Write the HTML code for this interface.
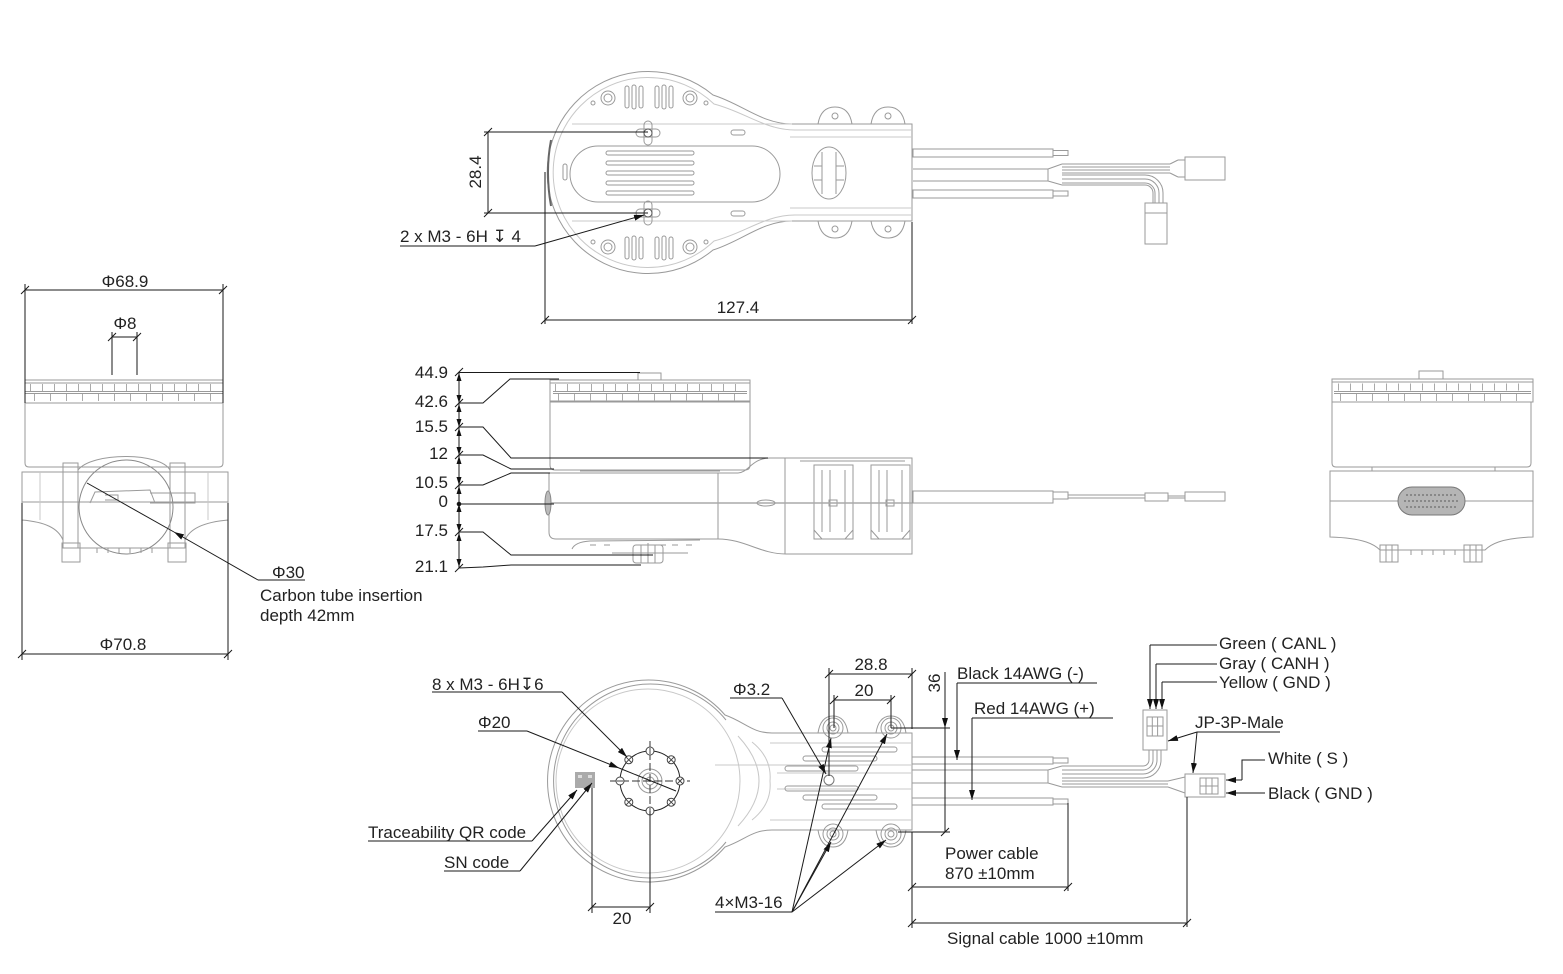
<!DOCTYPE html>
<html><head><meta charset="utf-8">
<style>
html,body{margin:0;padding:0;background:#fff}
svg{display:block}
text{font-family:"Liberation Sans","DejaVu Sans",sans-serif;font-size:17px;fill:#222}
.g{stroke:#9a9a9a;fill:none;stroke-width:1}
.l{stroke:#c8c8c8;fill:none;stroke-width:1}
.k{stroke:#1a1a1a;fill:none;stroke-width:1}
.d{stroke:#333;fill:none;stroke-width:1}
</style></head><body>
<svg width="1563" height="974" viewBox="0 0 1563 974" xmlns="http://www.w3.org/2000/svg">
<defs>
<marker id="a" viewBox="0 0 10 6" refX="10" refY="3" markerWidth="10" markerHeight="6" markerUnits="userSpaceOnUse" orient="auto"><path d="M0,0L10,3L0,6z" fill="#111"/></marker>
</defs>

<!-- ================= TOP VIEW ================= -->
<g>
<path class="g" d="M912,124 L792,124 C762,124 742,104 713,95 A101,101 0 1 0 713,250 C742,241 762,221 792,221 L912,221 Z"/>
<path class="l" d="M912,130 L795,130 C765,130 745,112 714,104 A95,95 0 1 0 714,241 C745,233 765,215 795,215 L912,215"/>
<path class="l" d="M572,124 L792,124 M572,221 L792,221 M790,137 L912,137 M790,208 L912,208"/>
<path class="g" d="M818,124 C820,112 826,107 835,107 C844,107 850,112 852,124 M871,124 C873,112 879,107 888,107 C897,107 903,112 905,124"/>
<path class="g" d="M818,221 C820,233 826,238 835,238 C844,238 850,233 852,221 M871,221 C873,233 879,238 888,238 C897,238 903,233 905,221"/>
<circle class="g" cx="835" cy="116" r="3"/><circle class="g" cx="888" cy="116" r="3"/>
<circle class="g" cx="835" cy="229" r="3"/><circle class="g" cx="888" cy="229" r="3"/>
<rect class="g" x="570" y="146" width="210" height="56" rx="28"/>
<rect class="g" x="606" y="151" width="88" height="4" rx="2"/>
<rect class="g" x="606" y="161" width="88" height="4" rx="2"/>
<rect class="g" x="606" y="171" width="88" height="4" rx="2"/>
<rect class="g" x="606" y="181" width="88" height="4" rx="2"/>
<rect class="g" x="606" y="191" width="88" height="4" rx="2"/>
<ellipse class="g" cx="829" cy="173" rx="17" ry="26"/>
<path class="g" d="M822,152 L822,194 M836,152 L836,194 M814,166 L822,166 M836,166 L844,166 M814,180 L822,180 M836,180 L844,180"/>
<rect class="g" x="636" y="129" width="24" height="8" rx="4"/>
<rect class="g" x="644" y="121" width="8" height="24" rx="4"/>
<circle cx="648" cy="133" r="4" fill="#fff" stroke="#555"/>
<rect class="g" x="636" y="209" width="24" height="8" rx="4"/>
<rect class="g" x="644" y="201" width="8" height="24" rx="4"/>
<circle cx="648" cy="213" r="4" fill="#fff" stroke="#555"/>
<circle class="g" cx="608" cy="98" r="7"/><circle class="g" cx="608" cy="98" r="4"/>
<circle class="g" cx="690" cy="98" r="7"/><circle class="g" cx="690" cy="98" r="4"/>
<rect class="g" x="625" y="86" width="4" height="22" rx="2"/><rect class="g" x="632" y="85" width="4" height="24" rx="2"/><rect class="g" x="639" y="86" width="4" height="22" rx="2"/>
<rect class="g" x="655" y="86" width="4" height="22" rx="2"/><rect class="g" x="662" y="85" width="4" height="24" rx="2"/><rect class="g" x="669" y="86" width="4" height="22" rx="2"/>
<circle class="g" cx="608" cy="247" r="7"/><circle class="g" cx="608" cy="247" r="4"/>
<circle class="g" cx="690" cy="247" r="7"/><circle class="g" cx="690" cy="247" r="4"/>
<rect class="g" x="625" y="237" width="4" height="22" rx="2"/><rect class="g" x="632" y="236" width="4" height="24" rx="2"/><rect class="g" x="639" y="237" width="4" height="22" rx="2"/>
<rect class="g" x="655" y="237" width="4" height="22" rx="2"/><rect class="g" x="662" y="236" width="4" height="24" rx="2"/><rect class="g" x="669" y="237" width="4" height="22" rx="2"/>
<circle class="g" cx="593" cy="103" r="2"/><circle class="g" cx="706" cy="103" r="2"/>
<circle class="g" cx="593" cy="242" r="2"/><circle class="g" cx="706" cy="242" r="2"/>
<rect class="g" x="731" y="130" width="14" height="5" rx="2.5"/>
<rect class="g" x="731" y="211" width="14" height="5" rx="2.5"/>
<rect class="g" x="563" y="164" width="4" height="16" rx="2"/>
<path d="M551,140 Q545,172 551,206" stroke="#666" stroke-width="2" fill="none"/>
<rect class="g" x="913" y="149" width="140" height="8"/>
<rect class="g" x="1053" y="150.5" width="15" height="5"/>
<rect class="g" x="913" y="190" width="140" height="8"/>
<rect class="g" x="1053" y="191" width="15" height="5"/>
<path class="g" d="M913,169 L1048,169 M913,181 L1048,181 M1048,169 L1048,181 M1048,169 L1062,164 M1048,181 L1062,185"/>
<path class="g" d="M1062,164 L1170,164 M1062,167 L1170,167 M1062,170 L1170,170 M1062,173 L1170,173 M1170,164 L1178,160 M1170,173 L1178,177 M1178,160 L1185,160 M1178,177 L1185,177"/>
<rect class="g" x="1185" y="157" width="40" height="23"/>
<path class="g" d="M1062,175 L1145,175 A18,18 0 0 1 1163,193 M1062,179 L1145,179 A14,14 0 0 1 1159,193 M1062,183 L1145,183 A10,10 0 0 1 1155,193 M1062,185 L1145,185 A8,8 0 0 1 1153,193 M1163,193 L1163,203 M1159,193 L1159,203 M1155,193 L1155,203 M1153,193 L1153,203"/>
<rect class="g" x="1145" y="203" width="22" height="41"/>
<line class="g" x1="1145" y1="213" x2="1167" y2="213"/>
</g>
<g class="k">
<path d="M488,132 L488,213 M484,132 L648,132 M484,213 L648,213 M484,136 L492,128 M484,217 L492,209"/>
<path d="M545,172 L545,324 M912,222 L912,324 M545,320 L912,320 M541,324 L549,316 M908,324 L916,316"/>
<path d="M400,246 L535,246"/>
<path d="M535,246 L644,215" marker-end="url(#a)"/>
</g>
<text x="481" y="172" text-anchor="middle" transform="rotate(-90 481 172)">28.4</text>
<text x="738" y="313" text-anchor="middle">127.4</text>
<text x="400" y="242">2 x M3 - 6H ↧ 4</text>

<!-- ================= LEFT VIEW ================= -->
<g>
<rect class="g" x="25" y="380" width="198" height="23"/>
<path class="g" d="M25,383 L223,383 M25,391.5 L223,391.5 M25,393.5 L223,393.5"/>
<line x1="30" y1="387.5" x2="220" y2="387.5" stroke="#aaa" stroke-width="7" stroke-dasharray="1 11"/>
<line x1="34" y1="397.5" x2="220" y2="397.5" stroke="#aaa" stroke-width="7" stroke-dasharray="1 15"/>
<path class="g" d="M25,403 L223,403 L223,463 Q223,467 219,467 L29,467 Q25,467 25,463 Z"/>
<path class="g" d="M22,472 L228,472 L228,502 L22,502 Z"/>
<path class="g" d="M22,502 L22,520 C45,522 58,528 63,540 L63,548 L185,548 L185,540 C190,528 205,522 228,520 L228,502"/>
<path class="l" d="M40,472 L40,520 M208,472 L208,520"/>
<rect class="g" x="63" y="463" width="15" height="85"/>
<rect class="g" x="170" y="463" width="15" height="85"/>
<path class="g" d="M78,470 C92,452 160,452 170,470"/>
<circle cx="126" cy="507" r="47" fill="none" stroke="#888"/>
<path class="g" d="M90,503 L95,492 L150,490 L155,503 M150,493 L195,493 L195,503 L150,503 M105,495 L118,495 L118,500 L105,500"/>
<rect class="g" x="62" y="543" width="18" height="19"/>
<rect class="g" x="168" y="543" width="18" height="19"/>
<path class="g" d="M97,548 L97,553 M108,548 L108,553 M119,548 L119,553 M130,548 L130,553 M141,548 L141,553 M152,548 L152,553"/>
</g>
<g class="k">
<path d="M25,284 L25,403 M223,284 L223,403 M25,290 L223,290 M21,294 L29,286 M219,294 L227,286"/>
<path d="M112,332 L112,375 M137,332 L137,375 M112,337 L137,337 M108,341 L116,333 M133,341 L141,333"/>
<path d="M22,503 L22,660 M228,503 L228,660 M22,654 L228,654 M18,658 L26,650 M224,658 L232,650"/>
<path d="M305,580 L258,580"/>
<path d="M258,580 L174,532" marker-end="url(#a)"/>
<path d="M174,532 L87,483"/>
</g>
<text x="125" y="287" text-anchor="middle">Φ68.9</text>
<text x="125" y="329" text-anchor="middle">Φ8</text>
<text x="123" y="650" text-anchor="middle">Φ70.8</text>
<text x="272" y="578">Φ30</text>
<text x="260" y="601">Carbon tube insertion</text>
<text x="260" y="621">depth 42mm</text>

<!-- ================= SIDE VIEW ================= -->
<g>
<rect class="g" x="638" y="373" width="23" height="7"/>
<rect class="g" x="550" y="380" width="200" height="21"/>
<path class="g" d="M550,383 L750,383 M553,391.5 L747,391.5 M553,393.5 L747,393.5"/>
<line x1="555" y1="387.5" x2="745" y2="387.5" stroke="#aaa" stroke-width="7" stroke-dasharray="1 11"/>
<line x1="558" y1="397.5" x2="745" y2="397.5" stroke="#aaa" stroke-width="7" stroke-dasharray="1 15"/>
<path class="g" d="M550,402 L750,402 L750,465 Q750,470 745,470 L555,470 Q550,470 550,465 Z"/>
<path class="g" d="M549,473 L738,473 C748,473 752,458 770,458 L912,458 L912,554 L786,554 C760,554 745,539 718,539 L556,539 Q549,539 549,532 Z"/>
<path class="g" d="M718,473 L718,539 M785,458 L785,554 M580,471 L720,471 M800,461 L905,461"/>
<rect class="g" x="814" y="465" width="39" height="74"/>
<rect class="g" x="871" y="465" width="39" height="74"/>
<path class="g" d="M822,470 L822,532 M845,470 L845,532 M830,470 L830,532 M879,470 L879,532 M902,470 L902,532 M887,470 L887,532 M814,530 L822,539 M853,530 L845,539 M871,530 L879,539 M910,530 L902,539"/>
<rect class="g" x="829" y="500" width="8" height="6"/>
<rect class="g" x="886" y="500" width="8" height="6"/>
<line x1="549" y1="503" x2="912" y2="503" stroke="#aaa" stroke-width="1.5"/>
<ellipse class="g" cx="766" cy="503" rx="9" ry="3"/>
<ellipse cx="548" cy="503" rx="3" ry="12" fill="#bbb" stroke="#888"/>
<path class="g" d="M572,549 Q575,542 590,541 L700,540 M612,553 L688,553"/>
<path class="g" d="M590,545 L596,545 M604,545 L610,545 M660,545 L666,545 M672,545 L678,545 M686,545 L692,545"/>
<rect class="g" x="633" y="545" width="30" height="18" rx="3"/>
<path class="g" d="M641,545 L641,563 M648,543 L648,563 M655,545 L655,563"/>
<rect class="g" x="913" y="491" width="140" height="12"/>
<rect class="g" x="1053" y="492" width="15" height="7"/>
<path class="g" d="M1068,495 L1145,495 M1068,498 L1145,498 M1168,496 L1185,496 M1168,498 L1185,498"/>
<rect class="g" x="1145" y="493" width="23" height="8"/>
<rect class="g" x="1185" y="492" width="40" height="9"/>
</g>
<g class="k">
<path d="M459,372 L459,568"/>
<path d="M455,376 L463,368 M455,407 L463,399 M455,431 L463,423 M455,459 L463,451 M455,489 L463,481 M455,536 L463,528 M455,572 L463,564"/>
<circle cx="459" cy="504" r="1.8" fill="#111"/>
<path d="M459,372.5 L640,372.5"/>
<path d="M459,403 L483,403 L510,379 L559,379"/>
<path d="M459,427 L483,427 L511,458 L768,458"/>
<path d="M459,455 L483,455 L511,469 L554,469"/>
<path d="M459,485 L483,485 L511,473 L550,473"/>
<path d="M459,504 L554,504"/>
<path d="M459,532 L483,532 L511,555 L653,555"/>
<path d="M459,568 L483,567 L511,565 L641,565"/>
</g>
<g fill="#111">
<path d="M459,373 L456.5,381 L461.5,381Z M459,403 L456.5,395 L461.5,395Z"/>
<path d="M459,404 L456.5,412 L461.5,412Z M459,427 L456.5,419 L461.5,419Z"/>
<path d="M459,428 L456.5,436 L461.5,436Z M459,455 L456.5,447 L461.5,447Z"/>
<path d="M459,456 L456.5,464 L461.5,464Z M459,485 L456.5,477 L461.5,477Z"/>
<path d="M459,486 L456.5,494 L461.5,494Z"/>
<path d="M459,504 L456.5,512 L461.5,512Z M459,532 L456.5,524 L461.5,524Z"/>
<path d="M459,533 L456.5,541 L461.5,541Z M459,567 L456.5,559 L461.5,559Z"/>
</g>
<g text-anchor="end">
<text x="448" y="378">44.9</text>
<text x="448" y="407">42.6</text>
<text x="448" y="432">15.5</text>
<text x="448" y="459">12</text>
<text x="448" y="488">10.5</text>
<text x="448" y="507">0</text>
<text x="448" y="536">17.5</text>
<text x="448" y="572">21.1</text>
</g>

<!-- ================= RIGHT VIEW ================= -->
<g>
<rect class="g" x="1419" y="371" width="24" height="8"/>
<rect class="g" x="1332" y="379" width="201" height="23"/>
<path class="g" d="M1332,382 L1533,382 M1334,391.5 L1531,391.5 M1334,393.5 L1531,393.5"/>
<line x1="1338" y1="387" x2="1528" y2="387" stroke="#aaa" stroke-width="7" stroke-dasharray="1 11"/>
<line x1="1340" y1="397.5" x2="1528" y2="397.5" stroke="#aaa" stroke-width="7" stroke-dasharray="1 15"/>
<path class="g" d="M1332,402 L1531,402 L1531,463 Q1531,467 1527,467 L1336,467 Q1332,467 1332,463 Z"/>
<path class="g" d="M1330,471 L1533,471 L1533,537 C1500,538 1490,545 1485,550 L1380,550 C1375,545 1365,538 1330,537 Z"/>
<path class="g" d="M1330,501 L1398,501 M1465,501 L1533,501 M1372,467 L1372,471 M1495,467 L1495,471"/>
<rect x="1398" y="487" width="67" height="28" rx="14" fill="#b5b5b5" stroke="#777"/>
<line x1="1406" y1="495" x2="1458" y2="495" stroke="#888" stroke-width="2" stroke-dasharray="2 2"/>
<line x1="1404" y1="501" x2="1460" y2="501" stroke="#888" stroke-width="2" stroke-dasharray="2 2"/>
<line x1="1406" y1="507" x2="1458" y2="507" stroke="#888" stroke-width="2" stroke-dasharray="2 2"/>
<rect class="g" x="1380" y="545" width="18" height="17"/>
<rect class="g" x="1464" y="545" width="18" height="17"/>
<path class="g" d="M1386,545 L1386,562 M1392,545 L1392,562 M1470,545 L1470,562 M1476,545 L1476,562 M1411,550 L1411,555 M1422,550 L1422,555 M1433,550 L1433,555 M1444,550 L1444,555 M1455,550 L1455,555"/>
</g>

<!-- ================= BOTTOM VIEW ================= -->
<g>
<path class="g" d="M912,733 L772,733 C752,733 745,722 725,715 A101,101 0 1 0 725,847 C745,840 752,830 772,830 L912,830 Z"/>
<path class="g" d="M726,720 A97,97 0 1 0 726,842"/>
<circle class="l" cx="648" cy="781" r="92" stroke="#aaa"/>
<path class="g" d="M818,733 C820,720 826,716 833,716 C840,716 846,720 848,733 M876,733 C878,720 884,716 891,716 C898,716 904,720 906,733"/>
<path class="g" d="M818,830 C820,843 826,847 833,847 C840,847 846,843 848,830 M876,830 C878,843 884,847 891,847 C898,847 904,843 906,830"/>
<circle class="g" cx="833" cy="728" r="10"/><circle class="g" cx="833" cy="728" r="6"/><circle class="g" cx="833" cy="728" r="3"/>
<circle class="g" cx="891" cy="728" r="10"/><circle class="g" cx="891" cy="728" r="6"/><circle class="g" cx="891" cy="728" r="3"/>
<circle class="g" cx="833" cy="834" r="10"/><circle class="g" cx="833" cy="834" r="6"/><circle class="g" cx="833" cy="834" r="3"/>
<circle class="g" cx="891" cy="834" r="10"/><circle class="g" cx="891" cy="834" r="6"/><circle class="g" cx="891" cy="834" r="3"/>
<path class="l" d="M738,736 Q780,781 738,826 M752,742 Q772,758 770,781 Q772,804 752,820 M770,743 L912,743 M770,820 L912,820 M715,765 L912,765 M777,773 L912,773 M777,789 L912,789"/>
<rect class="g" x="822" y="747" width="75" height="5" rx="2.5"/>
<rect class="g" x="803" y="756" width="74" height="5" rx="2.5"/>
<rect class="g" x="785" y="766" width="73" height="5" rx="2.5"/>
<rect class="g" x="785" y="786" width="73" height="5" rx="2.5"/>
<rect class="g" x="803" y="795" width="74" height="5" rx="2.5"/>
<rect class="g" x="822" y="804" width="75" height="5" rx="2.5"/>
<circle cx="829" cy="780" r="5" fill="#fff" stroke="#777"/>
<circle class="g" cx="650" cy="781" r="12"/><circle class="g" cx="650" cy="781" r="8"/><circle class="g" cx="650" cy="781" r="4"/>
<circle cx="650" cy="781" r="30" fill="none" stroke="#222"/>
<path d="M610,781 L690,781 M650,741 L650,821" stroke="#333" stroke-dasharray="8 3" fill="none"/>
<g fill="#fff" stroke="#444">
<circle cx="680" cy="781" r="4"/><circle cx="671.2" cy="802.2" r="4"/><circle cx="650" cy="811" r="4"/><circle cx="628.8" cy="802.2" r="4"/>
<circle cx="620" cy="781" r="4"/><circle cx="628.8" cy="759.8" r="4"/><circle cx="650" cy="751" r="4"/><circle cx="671.2" cy="759.8" r="4"/>
</g>
<path d="M677,778 L683,784 M683,778 L677,784 M668.2,799.2 L674.2,805.2 M674.2,799.2 L668.2,805.2 M625.8,799.2 L631.8,805.2 M631.8,799.2 L625.8,805.2 M625.8,756.8 L631.8,762.8 M631.8,756.8 L625.8,762.8 M668.2,756.8 L674.2,762.8 M674.2,756.8 L668.2,762.8 M617,781 L623,781 M650,748 L650,754 M650,808 L650,814" stroke="#444" fill="none"/>
<rect x="575" y="772" width="20" height="16" fill="#aaa"/>
<rect x="578" y="775" width="4" height="3" fill="#ddd"/><rect x="588" y="775" width="4" height="3" fill="#ddd"/>
<rect class="g" x="912" y="757" width="141" height="7"/>
<rect class="g" x="1053" y="758" width="15" height="5"/>
<rect class="g" x="912" y="798" width="141" height="7"/>
<rect class="g" x="1053" y="799" width="15" height="5"/>
<path class="g" d="M912,770 L1048,770 M912,783 L1048,783 M1048,770 L1048,783 M1048,770 L1062,766 M1048,783 L1062,787"/>
<path class="g" d="M1062,766 L1143,766 A6,6 0 0 0 1149,760 L1149,750 M1062,770 L1143,770 A10,10 0 0 0 1153,760 L1153,750 M1062,774 L1143,774 A14,14 0 0 0 1157,760 L1157,750 M1062,778 L1143,778 A18,18 0 0 0 1161,760 L1161,750"/>
<path class="g" d="M1062,781 L1168,781 M1062,784 L1168,784 M1062,787 L1168,787 M1168,781 L1185,777 M1168,787 L1185,793"/>
<rect class="g" x="1143" y="710" width="24" height="40"/>
<path class="g" d="M1147,717 L1163,717 L1163,736 L1147,736 Z M1152.3,717 L1152.3,736 M1157.6,717 L1157.6,736 M1147,726 L1163,726"/>
<rect class="g" x="1185" y="774" width="40" height="23"/>
<path class="g" d="M1200,778 L1218,778 L1218,794 L1200,794 Z M1200,786 L1218,786 M1206,778 L1206,794 M1212,778 L1212,794"/>
</g>
<g class="k">
<path d="M432,692 L562,692"/><path d="M562,692 L627,757" marker-end="url(#a)"/>
<path d="M478,731 L527,731"/><path d="M527,731 L619,768" marker-end="url(#a)"/><path d="M619,768 L676,791"/>
<path d="M368,841 L532,841"/><path d="M532,841 L577,790" marker-end="url(#a)"/>
<path d="M444,871 L520,871"/><path d="M520,871 L592,783" marker-end="url(#a)"/>
<path d="M592,788 L592,913 M650,811 L650,913 M592,907 L650,907 M588,911 L596,903 M646,911 L654,903"/>
<path d="M730,698 L782,698"/><path d="M782,698 L826,774" marker-end="url(#a)"/>
<path d="M829,668 L829,776 M912,668 L912,729 M829,674 L912,674 M825,678 L833,670 M908,678 L916,670"/>
<path d="M834,695 L834,728 M891,695 L891,728 M834,700 L891,700 M830,704 L838,696 M887,704 L895,696"/>
<path d="M891,728 L950,728 M898,832 L950,832"/>
<path d="M945,672 L945,728" marker-end="url(#a)"/><path d="M945,728 L945,832 M941,836 L949,828"/>
<path d="M1097,683 L957,683"/><path d="M957,683 L957,760" marker-end="url(#a)"/>
<path d="M1113,718 L972,718"/><path d="M972,718 L972,800" marker-end="url(#a)"/>
<path d="M715,912 L792,912"/>
<path d="M792,912 L831,738" marker-end="url(#a)"/>
<path d="M792,912 L887,734" marker-end="url(#a)"/>
<path d="M792,912 L831,842" marker-end="url(#a)"/>
<path d="M792,912 L886,840" marker-end="url(#a)"/>
<path d="M1068,803 L1068,891 M912,832 L912,928 M912,887 L1068,887 M908,891 L916,883 M1064,891 L1072,883"/>
<path d="M1187,797 L1187,927 M912,923 L1187,923 M908,927 L916,919 M1183,927 L1191,919"/>
<path d="M1217,645 L1150,645"/><path d="M1150,645 L1150,709" marker-end="url(#a)"/>
<path d="M1217,664 L1156,664"/><path d="M1156,664 L1156,709" marker-end="url(#a)"/>
<path d="M1217,682 L1162,682"/><path d="M1162,682 L1162,709" marker-end="url(#a)"/>
<path d="M1197,732 L1280,732"/>
<path d="M1197,732 L1168,741" marker-end="url(#a)"/>
<path d="M1197,732 L1193,773" marker-end="url(#a)"/>
<path d="M1265,760 L1242,760 L1242,780"/><path d="M1242,780 L1226,780" marker-end="url(#a)"/>
<path d="M1265,793 L1226,793" marker-end="url(#a)"/>
</g>
<text x="432" y="690">8 x M3 - 6H↧6</text>
<text x="478" y="728">Φ20</text>
<text x="368" y="838">Traceability QR code</text>
<text x="444" y="868">SN code</text>
<text x="622" y="924" text-anchor="middle">20</text>
<text x="733" y="695">Φ3.2</text>
<text x="871" y="670" text-anchor="middle">28.8</text>
<text x="864" y="696" text-anchor="middle">20</text>
<text x="940" y="683" text-anchor="middle" transform="rotate(-90 940 683)">36</text>
<text x="957" y="679">Black 14AWG  (-)</text>
<text x="974" y="714">Red 14AWG  (+)</text>
<text x="945" y="859">Power cable</text>
<text x="945" y="879">870 ±10mm</text>
<text x="715" y="908">4×M3-16</text>
<text x="947" y="944">Signal cable 1000 ±10mm</text>
<text x="1219" y="649">Green ( CANL )</text>
<text x="1219" y="669">Gray ( CANH )</text>
<text x="1219" y="688">Yellow ( GND )</text>
<text x="1195" y="728">JP-3P-Male</text>
<text x="1268" y="764">White ( S )</text>
<text x="1268" y="799">Black ( GND )</text>
</svg>
</body></html>
